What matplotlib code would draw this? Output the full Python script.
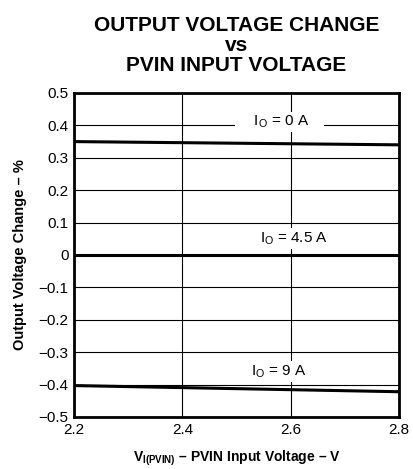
import matplotlib
matplotlib.use("Agg")
import matplotlib.pyplot as plt

plt.rcParams['font.family'] = ['Liberation Sans', 'DejaVu Sans']
plt.rcParams['mathtext.fontset'] = 'custom'
plt.rcParams['mathtext.rm'] = 'Liberation Sans'
plt.rcParams['mathtext.bf'] = 'Liberation Sans:bold'
plt.rcParams['mathtext.it'] = 'Liberation Sans:italic'

vin = [2.2, 2.8]
io0 = [0.35, 0.34]
io45 = [0.0, 0.0]
io9 = [-0.403, -0.422]
xticks = [2.2, 2.4, 2.6, 2.8]
yticks = [0.5, 0.4, 0.3, 0.2, 0.1, 0, -0.1, -0.2, -0.3, -0.4, -0.5]
ytick_labels = ['0.5', '0.4', '0.3', '0.2', '0.1', '0', '\u22120.1', '\u22120.2', '\u22120.3', '\u22120.4', '\u22120.5']
labels = [(2.58, 0.41, r'    I$_{\mathrm{O}}$ = 0 A    '),
          (2.607, 0.05, r'I$_{\mathrm{O}}$ = 4.5 A'),
          (2.577, -0.36, r'I$_{\mathrm{O}}$ = 9 A')]

fig = plt.figure(figsize=(4.13, 4.69), dpi=100)
ax = fig.add_axes([74/413, 1-417/469, 325/413, 324/469])

for y in yticks:
    ax.axhline(y, color='black', lw=0.8, zorder=1)
for x in [2.4, 2.6]:
    ax.axvline(x, color='black', lw=0.8, zorder=1)

for s in (io0, io45, io9):
    ax.plot(vin, s, color='black', lw=2.2, zorder=3)

for x, y, t in labels:
    ax.text(x, y, t, ha='center', va='center', fontsize=11, zorder=4,
            bbox=dict(facecolor='white', edgecolor='none', pad=1.5))

ax.set_xlim(2.2, 2.8)
ax.set_ylim(-0.5, 0.5)
ax.set_xticks(xticks)
ax.set_xticklabels(['2.2', '2.4', '2.6', '2.8'], fontsize=11)
ax.set_yticks(yticks)
ax.set_yticklabels(ytick_labels, fontsize=11)
ax.tick_params(length=0, pad=4)
for sp in ax.spines.values():
    sp.set_linewidth(2)

ax.set_xlabel('V$_{\\mathbf{I(PVIN)}}$ \u2013 PVIN Input Voltage \u2013 V',
              fontsize=10, fontweight='bold', labelpad=9)
ax.set_ylabel('Output Voltage Change \u2013 %', fontsize=10.5, fontweight='bold', labelpad=8)
ax.set_title('OUTPUT VOLTAGE CHANGE\nvs\nPVIN INPUT VOLTAGE', fontsize=15,
             fontweight='bold', linespacing=1.05, pad=16)

fig.savefig('out.png', dpi=100)
